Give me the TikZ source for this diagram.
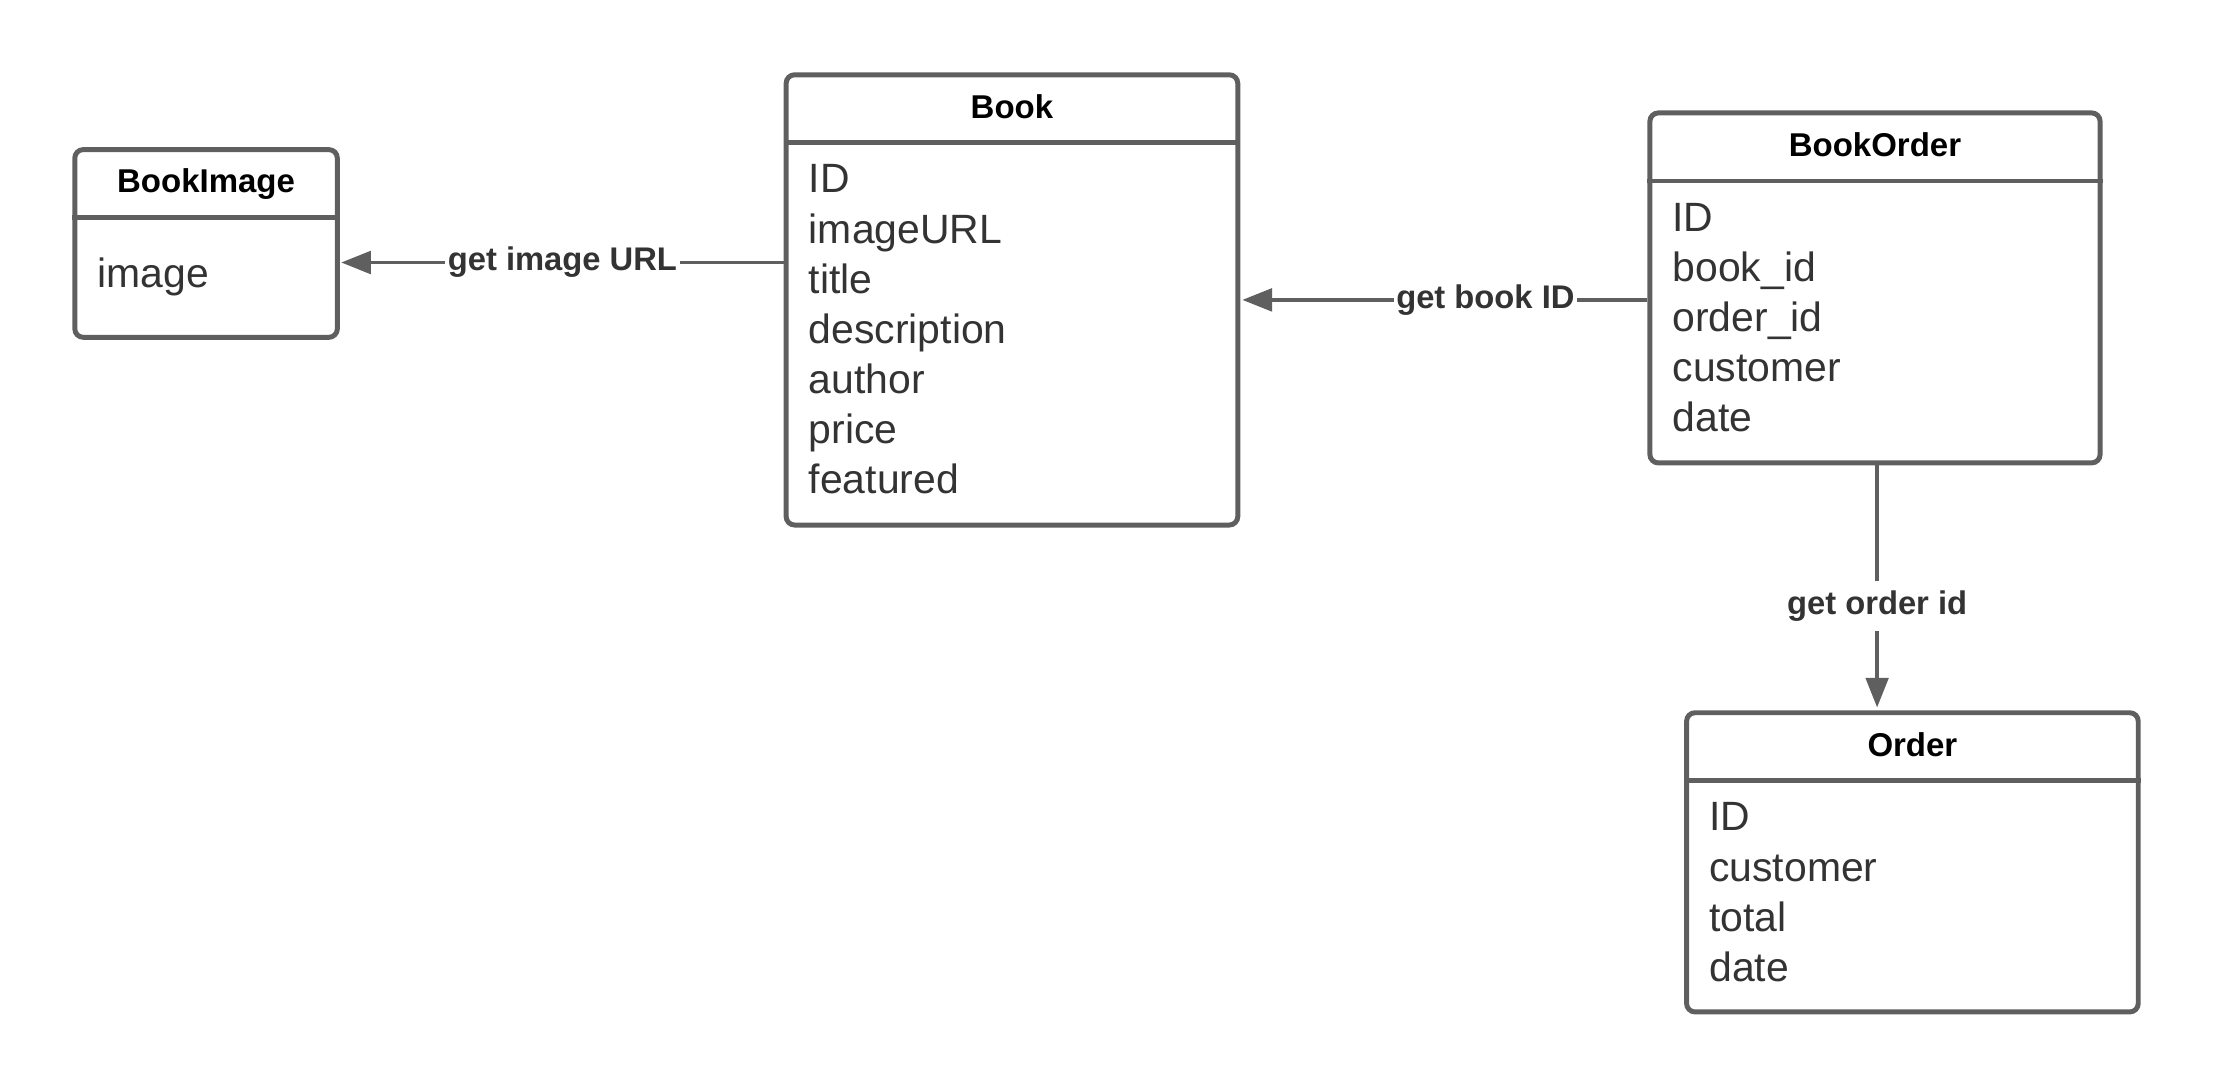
\documentclass[tikz,border=0pt]{standalone}
\usepackage{fontspec}
\setmainfont{Liberation Sans}
\usetikzlibrary{arrows.meta,positioning,calc}
\definecolor{linegray}{HTML}{5F5F5F}
\definecolor{textgray}{HTML}{333333}
\tikzset{
    entity/.style={draw=linegray, line width=2pt, rounded corners=0.12cm, inner sep=0pt},
    divider/.style={draw=linegray, line width=2pt},
    title/.style={font=\fontsize{13.3}{16}\selectfont\bfseries, anchor=base, inner sep=0pt},
    attr/.style={font=\fontsize{16.5}{20}\selectfont, text=textgray, anchor=base west, inner sep=0pt},
    link/.style={draw=linegray, line width=1.4pt, -{Triangle[length=0.42cm, width=0.32cm]}},
    lbl/.style={font=\fontsize{13.2}{16}\selectfont\bfseries, text=textgray, fill=white,
        inner xsep=1pt, inner ysep=4pt}
}
\begin{document}
\begin{tikzpicture}
    \useasboundingbox (0,0) rectangle (31.36,-15.42);
    % entities
    \node[entity, minimum width=3.72cm, minimum height=2.66cm] (bookimage) at (2.92,-3.45) {};
    \node[entity, minimum width=6.40cm, minimum height=6.38cm] (book) at (14.34,-4.25) {};
    \node[entity, minimum width=6.38cm, minimum height=4.96cm] (bookorder) at (26.57,-4.08) {};
    \node[entity, minimum width=6.40cm, minimum height=4.24cm] (order) at (27.10,-12.22) {};
    % header lines
    \foreach \e in {bookimage,book,bookorder,order}
        \draw[divider] ([yshift=-1cm]\e.north west) -- ([yshift=-1cm]\e.north east);
    % titles
    \node[title] (bookimage-t) at ([yshift=-0.65cm]bookimage.north) {BookImage};
    \node[title] (book-t) at ([yshift=-0.65cm]book.north) {Book};
    \node[title] (bookorder-t) at ([yshift=-0.65cm]bookorder.north) {BookOrder};
    \node[title] (order-t) at ([yshift=-0.65cm]order.north) {Order};
    % attributes
    \node[attr] (bookimage-a1) at ([xshift=0.35cm, yshift=-1.99cm]bookimage.north west) {image};
    \foreach \t [count=\i, evaluate=\i as \dy using -1.71-(\i-1)*0.71] in
        {ID,imageURL,title,description,author,price,featured}
        \node[attr] (book-a\i) at ([xshift=0.35cm, yshift=\dy cm]book.north west) {\t};
    \foreach \t [count=\i, evaluate=\i as \dy using -1.71-(\i-1)*0.71] in
        {ID,book\_id,order\_id,customer,date}
        \node[attr] (bookorder-a\i) at ([xshift=0.35cm, yshift=\dy cm]bookorder.north west) {\t};
    \foreach \t [count=\i, evaluate=\i as \dy using -1.71-(\i-1)*0.71] in
        {ID,customer,total,date}
        \node[attr] (order-a\i) at ([xshift=0.35cm, yshift=\dy cm]order.north west) {\t};
    % relations
    \draw[link] ([yshift=-0.27cm]book.north west |- bookimage.east) -- node[lbl] {get image URL}
        ([xshift=0.02cm, yshift=-0.27cm]bookimage.east);
    \draw[link] (bookorder.west |- book.east) -- node[lbl, pos=0.4] {get book ID}
        ([xshift=0.03cm]book.east);
    \draw[link] ([xshift=0.03cm]bookorder.south) -- node[lbl, pos=0.58] {get order id}
        ([xshift=0.03cm, yshift=0.04cm]bookorder.south |- order.north);
\end{tikzpicture}
\end{document}
